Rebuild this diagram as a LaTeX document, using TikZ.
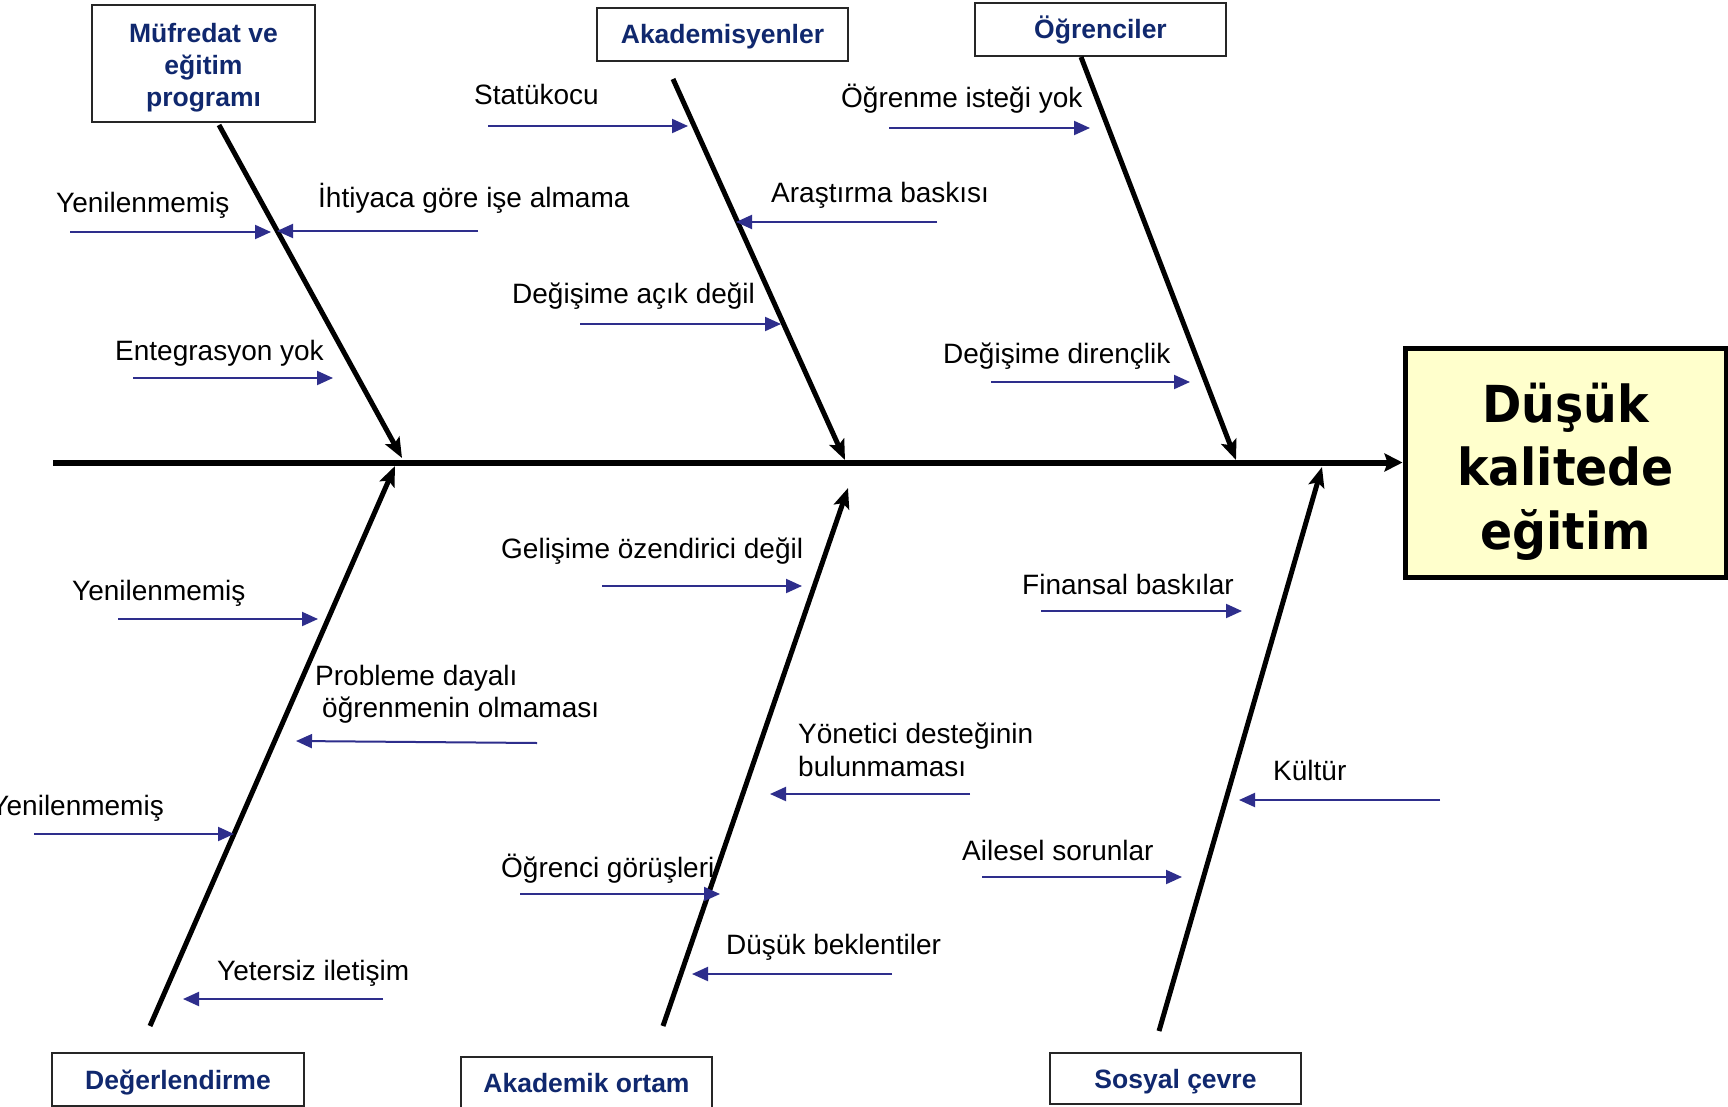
\documentclass[tikz,border=0pt]{standalone}
\usepackage{fontspec}
\setmainfont{Liberation Sans}
\newfontfamily\titlefont[FakeStretch=0.93]{DejaVu Sans}
\usetikzlibrary{arrows.meta}
\definecolor{navy}{RGB}{16,40,110}
\definecolor{causeblue}{RGB}{46,46,140}
\definecolor{resfill}{RGB}{255,255,204}
\begin{document}
\begin{tikzpicture}[x=1pt,y=-1pt,
  lab/.style={anchor=base west, inner sep=0pt, font=\fontsize{28}{33}\selectfont},
  cat/.style={draw=black!85, line width=2.5pt, inner sep=0pt, text=navy,
    font=\fontsize{26.5}{32}\selectfont\bfseries, text height=19pt, text depth=0pt},
  bone/.style={line width=5pt, -{Stealth[length=20pt,width=16pt,inset=4pt]}},
  cause/.style={causeblue, line width=2pt, -{Triangle[length=16pt,width=14pt]}},
]
\fill[white] (0,0) rectangle (1728,1107);
\useasboundingbox (0,0) rectangle (1728,1107);

% result box
\node[draw=black, line width=5pt, fill=resfill, minimum width=321pt, minimum height=229pt,
  inner sep=0pt] (res) at (1565.5,462.5) {};
\node[inner sep=0pt, align=center, font=\titlefont\fontsize{51}{63.5}\selectfont\bfseries]
  (restext) at ([yshift=-9pt]res.center) {Düşük\\kalitede\\eğitim};

% category boxes
\node[draw=black!85, line width=2.5pt, minimum width=223pt, minimum height=117pt, inner sep=0pt]
  (muf) at (203.5,63.5) {};
\node[inner sep=0pt, align=center, text=navy, font=\fontsize{26.5}{32}\selectfont\bfseries]
  (muftext) at ([yshift=-4.5pt]muf.center) {Müfredat ve\\eğitim\\programı};
\node[cat, minimum width=251pt, minimum height=53pt] (aka) at (722.5,34.5) {Akademisyenler};
\node[cat, minimum width=251pt, minimum height=53pt] (ogr) at (1100.5,29.5) {Öğrenciler};
\node[cat, minimum width=252pt, minimum height=53pt] (deg) at (178,1079.5) {Değerlendirme};
\node[cat, minimum width=251pt, minimum height=51pt] (ort) at (586.5,1082.5) {Akademik ortam};
\node[cat, minimum width=251pt, minimum height=51pt] (sos) at (1175.5,1078.5) {Sosyal çevre};

% spine
\coordinate (sp0) at (53,462.5);
\draw[line width=6pt, -{Stealth[length=18pt,width=18pt,inset=3pt]}] (sp0) -- (sp0 -| res.west);

% bones
\coordinate (b1s) at (219,125);  \coordinate (b1e) at (402,458);
\coordinate (b2s) at (673,79);   \coordinate (b2e) at (845,460);
\coordinate (b3s) at (1081,57);  \coordinate (b3e) at (1236,460);
\coordinate (b4s) at (150,1026); \coordinate (b4e) at (395,466);
\coordinate (b5s) at (663,1026); \coordinate (b5e) at (848,488);
\coordinate (b6s) at (1159,1031);\coordinate (b6e) at (1322,467);
\foreach \i in {1,...,6} {\draw[bone] (b\i s) -- (b\i e);}

% cause labels
\node[lab] (t1) at (56,213) {Yenilenmemiş};
\node[lab] (t2) at (318,208) {İhtiyaca göre işe almama};
\node[lab] (t3) at (115,360) {Entegrasyon yok};
\node[lab] (t4) at (474,105) {Statükocu};
\node[lab] (t5) at (771,203) {Araştırma baskısı};
\node[lab] (t6) at (512,303) {Değişime açık değil};
\node[lab] (t7) at (841,108) {Öğrenme isteği yok};
\node[lab] (t8) at (943,363) {Değişime dirençlik};
\node[lab] (t9) at (501,558) {Gelişime özendirici değil};
\node[lab] (t10) at (1022,594) {Finansal baskılar};
\node[lab] (t11) at (72,600) {Yenilenmemiş};
\node[lab] (t12a) at (315,685) {Probleme dayalı};
\node[lab] (t12b) at (322,717) {öğrenmenin olmaması};
\node[lab] (t13a) at (798,743) {Yönetici desteğinin};
\node[lab] (t13b) at (798,776) {bulunmaması};
\node[lab] (t14) at (1273,780) {Kültür};
\node[lab, anchor=base east] (t15) at (164,815) {Yenilenmemiş};
\node[lab] (t16) at (501,877) {Öğrenci görüşleri};
\node[lab] (t17) at (962,860) {Ailesel sorunlar};
\node[lab] (t18) at (217,980) {Yetersiz iletişim};
\node[lab] (t19) at (726,954) {Düşük beklentiler};

% cause arrows
\coordinate (a1s) at (70,232);   \coordinate (a1e) at (271,232);
\coordinate (a2s) at (478,231);  \coordinate (a2e) at (277,231);
\coordinate (a3s) at (133,378);  \coordinate (a3e) at (333,378);
\coordinate (a4s) at (488,126);  \coordinate (a4e) at (688,126);
\coordinate (a5s) at (937,222);  \coordinate (a5e) at (736,222);
\coordinate (a6s) at (580,324);  \coordinate (a6e) at (781,324);
\coordinate (a7s) at (889,128);  \coordinate (a7e) at (1090,128);
\coordinate (a8s) at (991,382);  \coordinate (a8e) at (1190,382);
\coordinate (a9s) at (602,586);  \coordinate (a9e) at (802,586);
\coordinate (a10s) at (1041,611); \coordinate (a10e) at (1242,611);
\coordinate (a11s) at (118,619); \coordinate (a11e) at (318,619);
\coordinate (a12s) at (537,743); \coordinate (a12e) at (296,741);
\coordinate (a13s) at (970,794); \coordinate (a13e) at (770,794);
\coordinate (a14s) at (1440,800); \coordinate (a14e) at (1239,800);
\coordinate (a15s) at (34,834);  \coordinate (a15e) at (234,834);
\coordinate (a16s) at (520,894); \coordinate (a16e) at (720,894);
\coordinate (a17s) at (982,877); \coordinate (a17e) at (1182,877);
\coordinate (a18s) at (383,999); \coordinate (a18e) at (183,999);
\coordinate (a19s) at (892,974); \coordinate (a19e) at (692,974);
\foreach \i in {1,...,19} {\draw[cause] (a\i s) -- (a\i e);}
\end{tikzpicture}
\end{document}
